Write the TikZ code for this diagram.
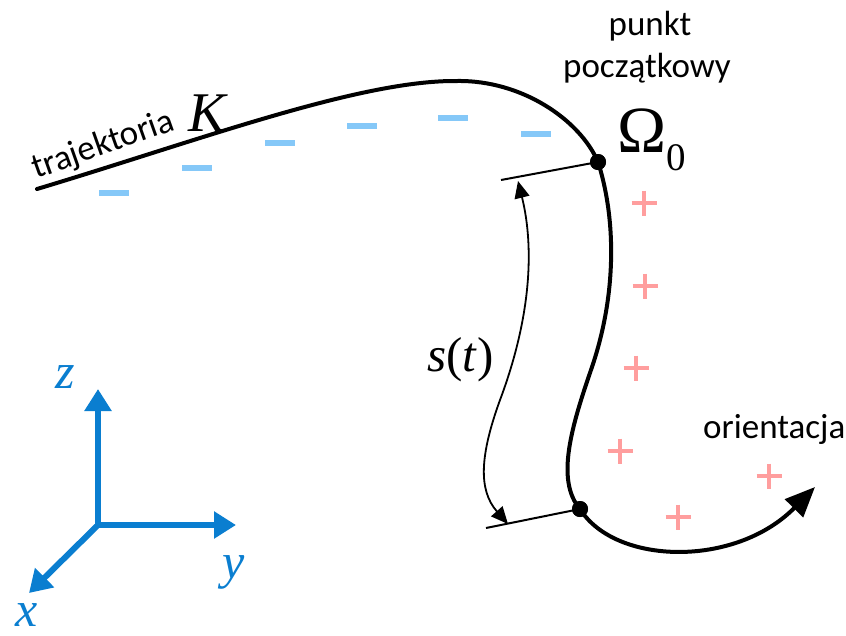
\documentclass[tikz,border=0pt]{standalone}
\usepackage{fontspec}
\setmainfont{Carlito}
\newfontfamily\tnr{Liberation Serif}
\usetikzlibrary{arrows.meta}
\definecolor{axblue}{RGB}{10,126,208}
\definecolor{minusblue}{RGB}{133,200,248}
\definecolor{pluspink}{RGB}{255,158,158}
\tikzset{
  traj/.style={line width=4pt, line cap=round, -{Triangle[length=30pt,width=25pt]}},
  arcline/.style={line width=1.8pt, {Triangle[length=17pt,width=15pt]}-{Triangle[length=17pt,width=15pt]}},
  tangent/.style={line width=2pt},
  dotnode/.style={circle, fill=black, inner sep=0pt, minimum size=16pt},
  axis/.style={line width=6pt, axblue, -{Triangle[length=22pt,width=26pt]}},
  axlabel/.style={text=axblue, font=\tnr\itshape\fontsize{50}{54}\selectfont, inner sep=0pt, anchor=base west},
  minussign/.style={line width=6pt, minusblue},
  plussign/.style={line width=4pt, pluspink},
  sanslabel/.style={font=\fontsize{35}{42}\selectfont, inner sep=0pt},
}
\begin{document}
\begin{tikzpicture}[x=1pt,y=-1pt]
\useasboundingbox (0,0) rectangle (846,635);

% points
\node[dotnode] (omega0) at (598,162) {};
\node[dotnode] (pt) at (580,509) {};
\coordinate (start) at (37,189);
\coordinate (top) at (457,81);
\coordinate (mid) at (592,367);
\coordinate (tip) at (815,487);

% trajectory
\draw[traj] (start) .. controls (200,140) and (360,80) .. (top)
  .. controls (522,80) and (580,120) .. (omega0.center)
  .. controls (615,215) and (618,290) .. (mid)
  .. controls (572,425) and (555,480) .. (pt.center)
  .. controls (615,565) and (735,568) .. (tip);
\node[dotnode] at (omega0) {};
\node[dotnode] at (pt) {};

% tangent lines
\coordinate (t0) at (501,180);
\coordinate (t1) at (486,528);
\draw[tangent] (t0) -- (omega0.center);
\draw[tangent] (t1) -- (pt.center);

% s(t) arc
\coordinate (a0) at (518,181);
\coordinate (am) at (500,400);
\coordinate (a1) at (508,524);
\draw[arcline] (a0) .. controls (535,250) and (530,320) .. (am)
  .. controls (480,455) and (478,490) .. (a1);

% minus signs
\foreach \x/\y in {114/193, 197/168, 280/143, 362/126, 453/118, 536/134}
  \draw[minussign] (\x-15,\y) -- (\x+15,\y);

% plus signs
\foreach \x/\y in {644/203, 645/286, 636/368, 620/451, 678/517, 769/476}
  \draw[plussign] (\x-12.5,\y) -- (\x+12.5,\y) (\x,\y-12.5) -- (\x,\y+12.5);

% labels
\node[sanslabel, anchor=base] (punkt) at (650,35) {punkt};
\node[sanslabel, anchor=base] (pocz) at (647,77) {początkowy};
\node[sanslabel, anchor=base west] (orient) at (703,438) {orientacja};
\node[sanslabel, anchor=base west, rotate=19.5] (traj) at (36,179) {trajektoria};
\node[inner sep=0pt, anchor=base west, font=\tnr\itshape\fontsize{56}{60}\selectfont] (K) at (188,131) {K};
\node[inner sep=0pt, anchor=base west, font=\tnr\fontsize{66}{70}\selectfont] (Omega) at (617,152) {Ω\raisebox{-0.28em}{\fontsize{39}{40}\selectfont 0}};
\node[inner sep=0pt, anchor=base west, font=\tnr\fontsize{49}{52}\selectfont] (st) at (427,371) {\textit{s}(\textit{t})};

% axes
\coordinate (orig) at (98,525);
\coordinate (zend) at (98,389);
\coordinate (yend) at (236,525);
\coordinate (xend) at (29,593);
\draw[axis] (orig) -- (zend);
\draw[axis] (orig) -- (yend);
\draw[axis] (orig) -- (xend);
\node[axlabel] (zl) at (55,388) {z};
\node[axlabel] (yl) at (222,578) {y};
\node[axlabel] (xl) at (15,626) {x};
\end{tikzpicture}
\end{document}
